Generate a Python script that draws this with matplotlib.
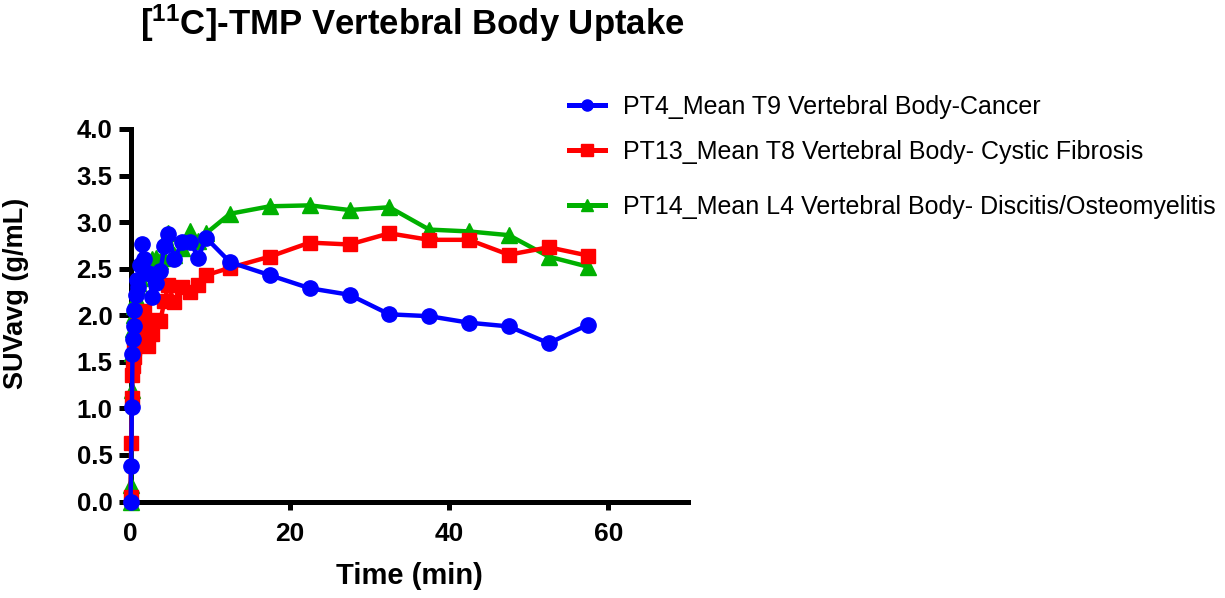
import matplotlib
matplotlib.use("Agg")
import matplotlib.pyplot as plt
from matplotlib.lines import Line2D
from matplotlib.transforms import blended_transform_factory

plt.rcParams['font.family'] = ['Liberation Sans', 'DejaVu Sans']
plt.rcParams['mathtext.fontset'] = 'custom'
plt.rcParams['mathtext.rm'] = 'Liberation Sans'
plt.rcParams['mathtext.bf'] = 'Liberation Sans:bold'

time_min = [0, 0.08, 0.17, 0.25, 0.33, 0.42, 0.5, 0.67, 0.83, 1.0, 1.25, 1.5, 1.75,
            2.25, 2.75, 3.25, 3.75, 4.25, 4.75, 5.5, 6.5, 7.5, 8.5, 9.5,
            12.5, 17.5, 22.5, 27.5, 32.5, 37.5, 42.5, 47.5, 52.5, 57.5]

pt4 = [0.0, 0.38, 1.01, 1.58, 1.74, 1.88, 2.06, 2.22, 2.38, 2.30, 2.54, 2.76, 2.60,
       2.45, 2.20, 2.35, 2.47, 2.74, 2.87, 2.60, 2.79, 2.79, 2.62, 2.83,
       2.57, 2.43, 2.29, 2.22, 2.01, 1.99, 1.92, 1.88, 1.70, 1.90]

pt13 = [0.05, 0.63, 1.11, 1.36, 1.45, 1.55, 1.65, 1.78, 1.85, 1.90, 1.75, 1.95, 2.05,
        1.67, 1.80, 1.95, 1.94, 2.15, 2.32, 2.14, 2.30, 2.25, 2.33, 2.43,
        2.51, 2.63, 2.78, 2.76, 2.88, 2.81, 2.81, 2.65, 2.73, 2.64]

pt14 = [0.0, 0.18, 1.20, 1.60, 1.85, 2.00, 2.10, 2.20, 2.30, 2.35, 2.40, 2.45, 2.50,
        2.55, 2.60, 2.62, 2.58, 2.62, 2.88, 2.65, 2.72, 2.90, 2.80, 2.88,
        3.09, 3.17, 3.18, 3.13, 3.16, 2.92, 2.90, 2.86, 2.63, 2.52]

labels = ["PT4_Mean T9 Vertebral Body-Cancer",
          "PT13_Mean T8 Vertebral Body- Cystic Fibrosis",
          "PT14_Mean L4 Vertebral Body- Discitis/Osteomyelitis"]
colors = ['#0000FF', '#FF0000', '#00B000']
markers = ['o', 's', '^']

W, H = 1225, 598
fig = plt.figure(figsize=(W / 100, H / 100), dpi=100)
ax = fig.add_axes([130.5 / W, 1 - 501.5 / H, (688 - 130.5) / W, (501.5 - 129) / H])

lw = 3.2
ax.plot(time_min, pt14, color=colors[2], marker='^', markersize=11, lw=lw,
        clip_on=False, zorder=3)
ax.plot(time_min, pt13, color=colors[1], marker='s', markersize=10, lw=lw,
        clip_on=False, zorder=4)
ax.plot(time_min, pt4, color=colors[0], marker='o', markersize=11, lw=lw,
        clip_on=False, zorder=5)

ax.set_xlim(0, 70)
ax.set_ylim(0, 4.0)
ax.set_xticks([0, 20, 40, 60])
ax.set_yticks([0.0, 0.5, 1.0, 1.5, 2.0, 2.5, 3.0, 3.5, 4.0])
ax.set_yticklabels([f"{v:.1f}" for v in ax.get_yticks()])

for s in ['top', 'right']:
    ax.spines[s].set_visible(False)
for s in ['left', 'bottom']:
    ax.spines[s].set_linewidth(3.6)
ax.tick_params(axis='y', width=3.6, length=9, labelsize=18.5, pad=4)
ax.tick_params(axis='x', width=3.6, length=6, labelsize=19, pad=9)
for lab in ax.get_xticklabels() + ax.get_yticklabels():
    lab.set_fontweight('bold')

ax.set_xlabel("Time (min)", fontsize=21, fontweight='bold')
ax.xaxis.set_label_coords(0.5, 1 - 562 / H,
                          transform=blended_transform_factory(ax.transAxes, fig.transFigure))
ax.set_ylabel("SUVavg (g/mL)", fontsize=19.5, fontweight='bold')
ax.yaxis.set_label_coords(29 / W, 0.558,
                          transform=blended_transform_factory(fig.transFigure, ax.transAxes))

fig.text(140 / W, 1 - 23 / H, r"[$\mathbf{^{11}}$C]-TMP Vertebral Body Uptake",
         fontsize=25, fontweight='bold', va='center', ha='left')

leg_y = [106.7, 151.7, 206.7]
for i in range(3):
    h = Line2D([], [], color=colors[i], marker=markers[i], markersize=8, lw=3.6)
    fig.legend([h], [labels[i]], loc='center left',
               bbox_to_anchor=(569 / W, 1 - leg_y[i] / H), frameon=False,
               fontsize=18, handlelength=1.45, handletextpad=0.7,
               borderpad=0, borderaxespad=0)

fig.savefig("out.png", dpi=100)
